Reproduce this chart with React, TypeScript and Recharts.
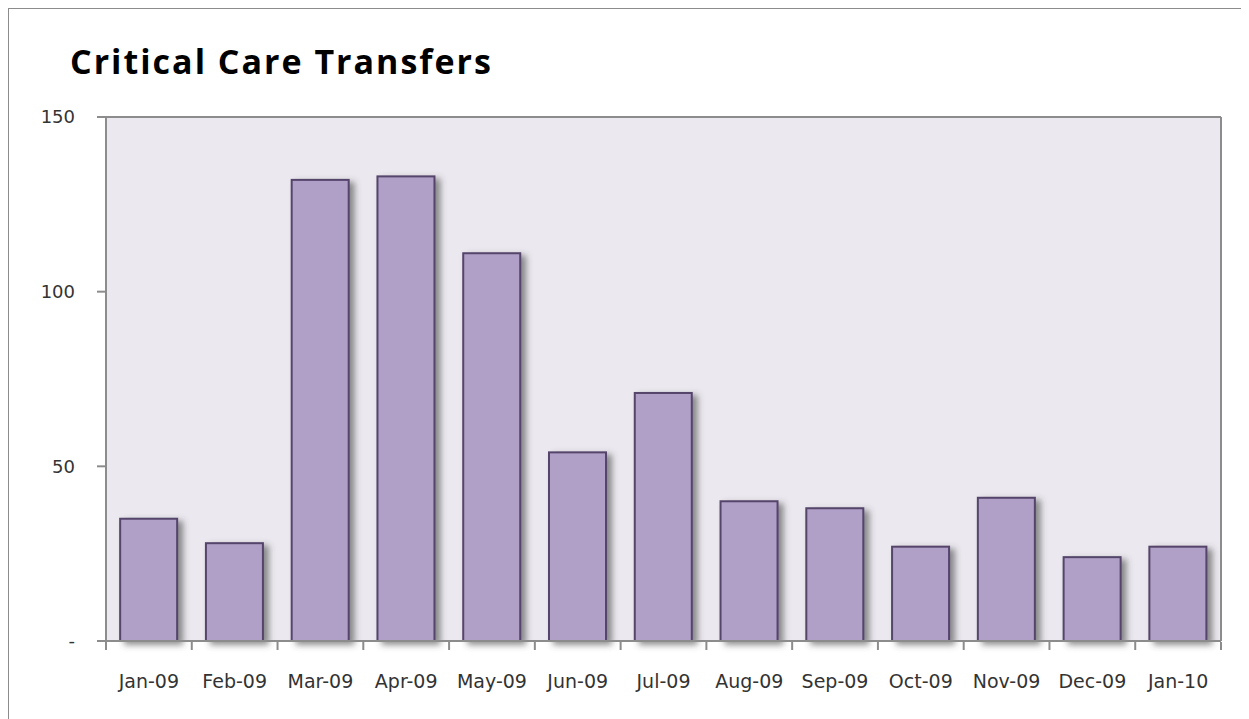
import { Bar, BarChart, CartesianGrid, XAxis, YAxis } from "recharts";

const months = ["Jan-09", "Feb-09", "Mar-09", "Apr-09", "May-09", "Jun-09", "Jul-09", "Aug-09", "Sep-09", "Oct-09", "Nov-09", "Dec-09", "Jan-10"];
const transfers = [35, 28, 132, 133, 111, 54, 71, 40, 38, 27, 41, 24, 27];
const yTicks = [0, 50, 100, 150];
const boundaryTicks = [0, 1, 2, 3, 4, 5, 6, 7, 8, 9, 10, 11, 12, 13];

const data = months.map((month, i) => ({ month, transfers: transfers[i], idx: i + 0.5 }));

const axisGrey = "#8c8c8c";
const yTickFont = { fontFamily: "DejaVu Sans", fontSize: 18, fill: "#333" };
const xTickFont = { fontFamily: "DejaVu Sans", fontSize: 19, fill: "#333" };

function ShadowBar(props: any) {
  const { x, y, width, height } = props;
  if (!height || height <= 0) return null;
  return (
    <rect x={x} y={y} width={width} height={height} fill="#b0a0c7" stroke="#54446b" strokeWidth={2} filter="url(#barShadow)" />
  );
}

export default function App() {
  return (
    <div style={{ position: "relative", width: 1240, height: 720, border: "1px solid #8c8c8c", boxSizing: "border-box", background: "#fff" }}>
      <div
        style={{
          position: "absolute",
          left: 61,
          top: 29,
          fontFamily: "Open Sans",
          fontWeight: 700,
          fontSize: 34,
          color: "#000",
          letterSpacing: 2,
        }}
      >
        Critical Care Transfers
      </div>
      <BarChart width={1238} height={700} data={data} margin={{ top: 107, right: 25, left: 37, bottom: 27 }} barCategoryGap="16.5%">
        <defs>
          <filter id="barShadow" x="-20%" y="-10%" width="150%" height="130%">
            <feDropShadow dx={5} dy={3} stdDeviation={3} floodColor="#444" floodOpacity={0.6} />
          </filter>
        </defs>
        <CartesianGrid horizontal={false} vertical={false} fill="#ebe9ef" />
        <XAxis
          dataKey="month"
          height={1}
          stroke={axisGrey}
          strokeWidth={2}
          tickLine={false}
          tick={xTickFont}
          tickMargin={28}
          interval={0}
        />
        <XAxis
          xAxisId="bounds"
          type="number"
          dataKey="idx"
          domain={[0, 13]}
          ticks={boundaryTicks}
          interval={0}
          height={40}
          axisLine={false}
          tickFormatter={() => ""}
          tickSize={8}
          stroke={axisGrey}
          strokeWidth={2}
        />
        <XAxis xAxisId="top" orientation="top" dataKey="month" height={1} tick={false} tickLine={false} stroke={axisGrey} strokeWidth={2} />
        <YAxis
          domain={[0, 150]}
          ticks={yTicks}
          width={60}
          tick={yTickFont}
          tickSize={9}
          tickMargin={22}
          stroke={axisGrey}
          strokeWidth={2}
          tickFormatter={(v: number) => (v === 0 ? "-" : String(v))}
        />
        <YAxis yAxisId="right" orientation="right" width={1} tick={false} tickLine={false} stroke={axisGrey} strokeWidth={2} />
        <Bar dataKey="transfers" isAnimationActive={false} shape={ShadowBar} />
      </BarChart>
    </div>
  );
}
